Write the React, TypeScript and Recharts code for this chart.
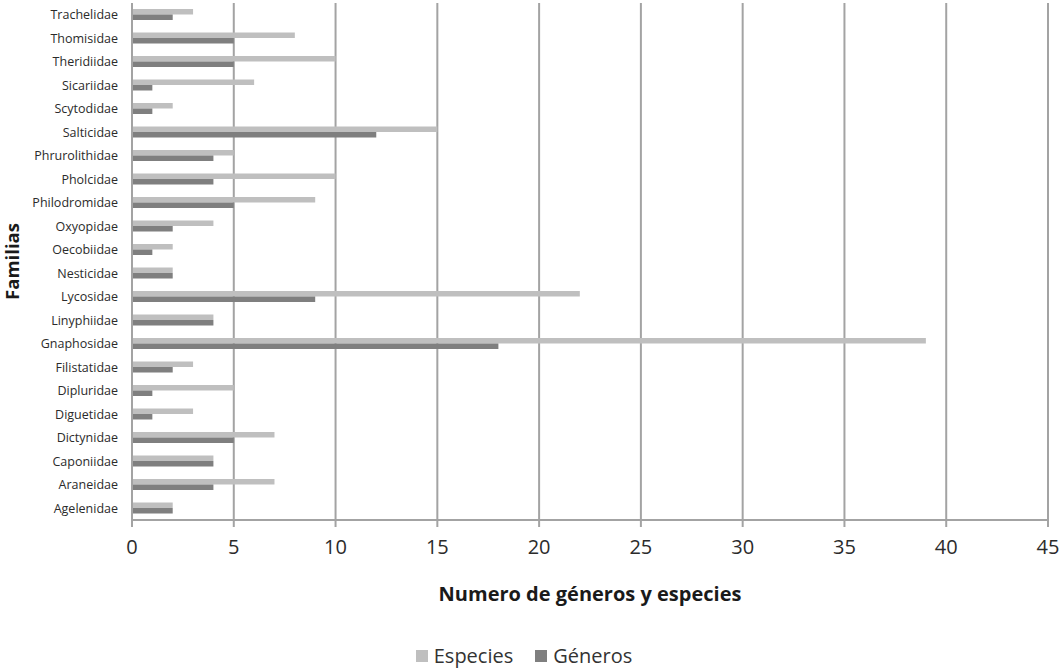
import { BarChart, Bar, XAxis, YAxis, CartesianGrid, Legend } from 'recharts'

// familias de arriba hacia abajo, como en la figura
const familias = [
  'Trachelidae', 'Thomisidae', 'Theridiidae', 'Sicariidae', 'Scytodidae', 'Salticidae',
  'Phrurolithidae', 'Pholcidae', 'Philodromidae', 'Oxyopidae', 'Oecobiidae', 'Nesticidae',
  'Lycosidae', 'Linyphiidae', 'Gnaphosidae', 'Filistatidae', 'Dipluridae', 'Diguetidae',
  'Dictynidae', 'Caponiidae', 'Araneidae', 'Agelenidae',
]
const especies = [3, 8, 10, 6, 2, 15, 5, 10, 9, 4, 2, 2, 22, 4, 39, 3, 5, 3, 7, 4, 7, 2]
const generos = [2, 5, 5, 1, 1, 12, 4, 4, 5, 2, 1, 2, 9, 4, 18, 2, 1, 1, 5, 4, 4, 2]
const xTicks = [0, 5, 10, 15, 20, 25, 30, 35, 40, 45]

const data = familias.map((f, i) => ({ familia: f, especies: especies[i], generos: generos[i] }))

const LIGHT = '#bfbfbf'
const DARK = '#7f7f7f'
const GRID = '#a3a3a3'
const FONT = '"Open Sans", "Liberation Sans", sans-serif'

function LegendBox() {
  const items = [
    { label: 'Especies', color: LIGHT },
    { label: 'Géneros', color: DARK },
  ]
  return (
    <div style={{ height: 50, display: 'flex', justifyContent: 'center', alignItems: 'flex-end', fontFamily: FONT }}>
      {items.map((it, i) => (
        <div key={it.label} style={{ display: 'flex', alignItems: 'center', marginLeft: i ? 22 : 0, fontSize: 20, color: '#333', lineHeight: '28px' }}>
          <span style={{ width: 12, height: 12, background: it.color, display: 'inline-block', marginRight: 6 }} />
          {it.label}
        </div>
      ))}
    </div>
  )
}

function FamiliasLabel(props: any) {
  const vb = props.viewBox
  const cx = 11
  const cy = vb.y + vb.height / 2
  return (
    <text
      x={cx}
      y={cy}
      transform={`rotate(-90 ${cx} ${cy})`}
      textAnchor="middle"
      dominantBaseline="central"
      fontFamily={FONT}
      fontWeight={700}
      fontSize={18.5}
      fill="#1a1a1a"
    >
      Familias
    </text>
  )
}

export default function App() {
  return (
    <div style={{ position: 'absolute', left: 0, top: 0, background: '#fff' }}>
      <BarChart
        width={1062}
        height={670}
        data={data}
        layout="vertical"
        margin={{ top: 3, right: 14, left: 0, bottom: 0 }}
        barGap={0}
        barSize={5.5}
      >
        <CartesianGrid vertical horizontal={false} stroke={GRID} strokeWidth={2} />
        <XAxis
          type="number"
          domain={[0, 45]}
          ticks={xTicks}
          interval={0}
          height={100}
          stroke={GRID}
          strokeWidth={2}
          tickSize={7}
          tickMargin={13}
          tick={{ fill: '#2b2b2b', fontSize: 20, fontFamily: FONT }}
          label={{
            value: 'Numero de géneros y especies',
            position: 'insideBottom',
            offset: 19,
            fill: '#1a1a1a',
            fontSize: 20,
            fontWeight: 700,
            fontFamily: FONT,
          }}
        />
        <YAxis
          type="category"
          dataKey="familia"
          width={132}
          interval={0}
          stroke={GRID}
          strokeWidth={2}
          tickLine={false}
          tickMargin={8}
          tick={{ fill: '#2b2b2b', fontSize: 12.5, fontFamily: FONT }}
          label={<FamiliasLabel />}
        />
        <Legend verticalAlign="bottom" content={<LegendBox />} wrapperStyle={{ height: 50 }} />
        <Bar dataKey="especies" name="Especies" fill={LIGHT} isAnimationActive={false} />
        <Bar dataKey="generos" name="Géneros" fill={DARK} isAnimationActive={false} />
      </BarChart>
    </div>
  )
}
